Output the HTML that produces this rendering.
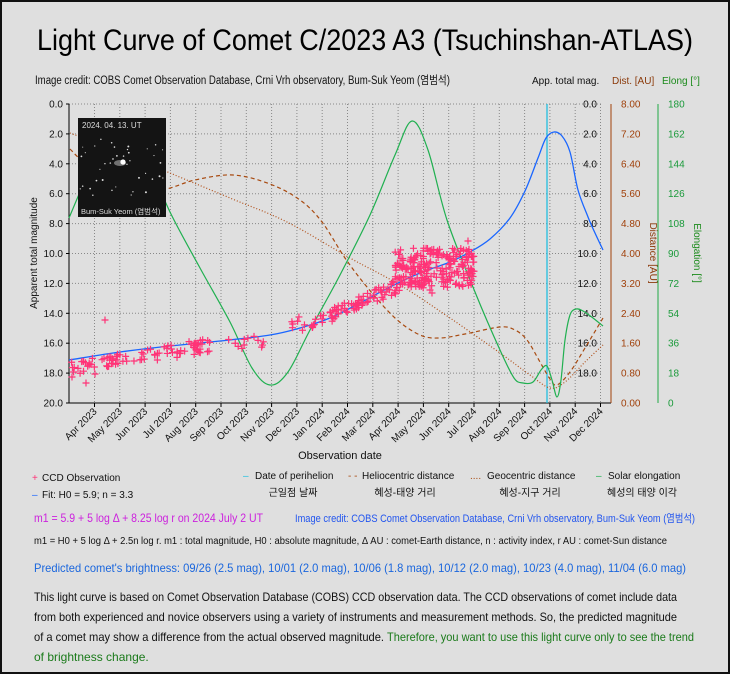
<!DOCTYPE html>
<html><head><meta charset="utf-8"><style>
html,body{margin:0;padding:0;background:#e0e0e0}
body{width:730px;height:674px;overflow:hidden}
svg{display:block;font-family:"Liberation Sans","Noto Sans CJK KR",sans-serif}
</style></head><body>
<svg id="s" width="730" height="674" viewBox="0 0 730 674" xmlns="http://www.w3.org/2000/svg">
<rect x="0" y="0" width="730" height="674" fill="#dfdfdf"/>
<rect x="1" y="1" width="728" height="672" fill="none" stroke="#111" stroke-width="2"/>
<text x="365" y="50" font-size="30" text-anchor="middle" textLength="656" lengthAdjust="spacingAndGlyphs" fill="#000">Light Curve of Comet C/2023 A3 (Tsuchinshan-ATLAS)</text>
<text x="35" y="84" font-size="11.5" fill="#111" textLength="415" lengthAdjust="spacingAndGlyphs">Image credit: COBS Comet Observation Database, Crni Vrh observatory, Bum-Suk Yeom (염범석)</text>
<text x="532" y="84" font-size="10" fill="#111">App. total mag.</text>
<text x="612" y="84" font-size="10" fill="#8b3a0a">Dist. [AU]</text>
<text x="662" y="84" font-size="10" fill="#1a8a1a">Elong [°]</text>
<g id="grid" stroke="#888" stroke-width="1" stroke-dasharray="1,2"></g>
<g id="lab" font-size="10" fill="#111"></g>
<line x1="69" y1="104" x2="69" y2="403" stroke="#000"/>
<line x1="69" y1="403" x2="611" y2="403" stroke="#000"/>
<line x1="611" y1="104" x2="611" y2="403" stroke="#a0400a"/>
<line x1="658" y1="104" x2="658" y2="403" stroke="#22aa44"/>
<line x1="547" y1="104" x2="547" y2="403" stroke="#22c0e0" stroke-width="1.3"/>
<g id="curves" fill="none"></g>
<g id="pts" stroke="#ff3377" stroke-width="1.2"></g>
<!-- photo -->
<rect x="78" y="118" width="88" height="99" fill="#141414"/>
<g id="stars" fill="#ddd"></g>
<ellipse cx="120" cy="163" rx="6" ry="3" fill="#999" opacity="0.7"/>
<circle cx="123" cy="162" r="2.6" fill="#fff"/>
<text x="82" y="128" font-size="8" fill="#ddd">2024. 04. 13. UT</text>
<text x="81" y="214" font-size="7.5" fill="#ddd">Bum-Suk Yeom (염범석)</text>
<text transform="translate(37,253) rotate(-90)" font-size="10" text-anchor="middle" fill="#111">Apparent total magnitude</text>
<text transform="translate(650,253) rotate(90)" font-size="10" text-anchor="middle" fill="#8b3a0a">Distance [AU]</text>
<text transform="translate(694,253) rotate(90)" font-size="10" text-anchor="middle" fill="#1a8a1a">Elongation [°]</text>
<text x="340" y="459" font-size="11" text-anchor="middle" fill="#111">Observation date</text>
<g font-size="10" fill="#111">
<text x="32" y="481" fill="#ff3377">+</text><text x="42" y="481">CCD Observation</text>
<text x="32" y="498" fill="#1a66ff">–</text><text x="42" y="498">Fit: H0 = 5.9; n = 3.3</text>
<text x="243" y="479" fill="#22c0e0">–</text><text x="255" y="479">Date of perihelion</text>
<text x="293" y="496" text-anchor="middle">근일점 날짜</text>
<text x="348" y="479" fill="#a84a10">- -</text><text x="362" y="479">Heliocentric distance</text>
<text x="405" y="496" text-anchor="middle">혜성-태양 거리</text>
<text x="470" y="479" fill="#a84a10">....</text><text x="487" y="479">Geocentric distance</text>
<text x="530" y="496" text-anchor="middle">혜성-지구 거리</text>
<text x="596" y="479" fill="#20b050">–</text><text x="608" y="479">Solar elongation</text>
<text x="642" y="496" text-anchor="middle">혜성의 태양 이각</text>
</g>
<text x="34" y="522" font-size="12" fill="#cc22dd" textLength="229" lengthAdjust="spacingAndGlyphs">m1 = 5.9 + 5 log Δ + 8.25 log r  on 2024 July 2 UT</text>
<text x="295" y="522" font-size="11" fill="#2255ee" textLength="400" lengthAdjust="spacingAndGlyphs">Image credit: COBS Comet Observation Database, Crni Vrh observatory, Bum-Suk Yeom (염범석)</text>
<text x="34" y="544" font-size="10" fill="#111" textLength="633" lengthAdjust="spacingAndGlyphs">m1 = H0 + 5 log Δ + 2.5n log r. m1 : total magnitude, H0 : absolute magnitude, Δ AU : comet-Earth distance, n : activity index, r AU : comet-Sun distance</text>
<text x="34" y="572" font-size="12" fill="#1a66dd" textLength="652" lengthAdjust="spacingAndGlyphs">Predicted comet's brightness: 09/26 (2.5 mag), 10/01 (2.0 mag), 10/06 (1.8 mag), 10/12 (2.0 mag), 10/23 (4.0 mag), 11/04 (6.0 mag)</text>
<g font-size="12" fill="#111">
<text x="34" y="601" textLength="643" lengthAdjust="spacingAndGlyphs">This light curve is based on Comet Observation Database (COBS) CCD observation data. The CCD observations of comet include data</text>
<text x="34" y="621" textLength="643" lengthAdjust="spacingAndGlyphs">from both experienced and novice observers using a variety of instruments and measurement methods. So, the predicted magnitude</text>
<text x="34" y="641" textLength="350" lengthAdjust="spacingAndGlyphs">of a comet may show a difference from the actual observed magnitude.</text>
<text x="387" y="641" fill="#1a7a1a" textLength="307" lengthAdjust="spacingAndGlyphs">Therefore, you want to use this light curve only to see the trend</text>
<text x="34" y="661" fill="#1a7a1a">of brightness change.</text>
</g>
</svg>
<script>
var NS="http://www.w3.org/2000/svg";
function el(p,t,a,txt){var e=document.createElementNS(NS,t);for(var k in a)e.setAttribute(k,a[k]);if(txt!=null)e.textContent=txt;document.getElementById(p).appendChild(e);return e;}
function smooth(pts){var d="M"+pts[0][0]+","+pts[0][1];for(var i=0;i<pts.length-1;i++){var p0=pts[i-1]||pts[i],p1=pts[i],p2=pts[i+1],p3=pts[i+2]||p2;
 var c1x=p1[0]+(p2[0]-p0[0])/6,c1y=p1[1]+(p2[1]-p0[1])/6,c2x=p2[0]-(p3[0]-p1[0])/6,c2y=p2[1]-(p3[1]-p1[1])/6;
 d+="C"+c1x.toFixed(1)+","+c1y.toFixed(1)+" "+c2x.toFixed(1)+","+c2y.toFixed(1)+" "+p2[0]+","+p2[1];}return d;}
function curve(pts,attrs){attrs.d=smooth(pts);el("curves","path",attrs);}
curve([[70,133],[120,152],[170,173],[230,198],[287,222],[350,258],[400,285],[450,318],[500,353],[530,375],[550,388],[565,382],[585,362],[603,345]],{stroke:"#b0501a","stroke-width":1.2,"stroke-dasharray":"1,2"});
curve([[70,149],[90,168],[120,186],[160,190],[195,180],[233,175],[270,184],[300,200],[322,222],[345,258],[367,287],[395,318],[420,335],[440,338],[465,334],[500,327],[515,330],[527,340],[540,362],[550,379],[557,385],[570,372],[585,348],[603,318]],{stroke:"#a84a10","stroke-width":1.2,"stroke-dasharray":"4,3"});
curve([[69,218],[85,180],[100,145],[118,124],[135,132],[150,165],[170,212],[200,268],[230,322],[252,368],[270,385],[288,372],[310,330],[340,275],[370,215],[395,155],[412,121],[428,150],[447,220],[475,292],[500,350],[514,378],[523,383],[533,382],[541,370],[547,366],[552,380],[557,397],[561,380],[565,340],[570,315],[576,309],[583,311],[593,318],[603,326]],{stroke:"#20b050","stroke-width":1.2});
curve([[69,360],[120,352],[170,346],[220,341],[270,335],[300,328],[330,318],[360,303],[390,287],[420,273],[450,262],[470,252],[490,239],[510,218],[525,191],[538,158],[546,138],[554,132],[562,136],[570,152],[578,190],[588,217],[595,233],[603,250]],{stroke:"#1a66ff","stroke-width":1.3});
var months=["Apr 2023","May 2023","Jun 2023","Jul 2023","Aug 2023","Sep 2023","Oct 2023","Nov 2023","Dec 2023","Jan 2024","Feb 2024","Mar 2024","Apr 2024","May 2024","Jun 2024","Jul 2024","Aug 2024","Sep 2024","Oct 2024","Nov 2024","Dec 2024"];
for(var i=0;i<=10;i++){var y=104+i*29.9;
 el("grid","line",{x1:69,y1:y,x2:603,y2:y});
 el("lab","text",{x:63,y:y+3.5,"text-anchor":"end"},(i*2).toFixed(1));
 if(i<10) el("lab","text",{x:597,y:y+3.5,"text-anchor":"end"},(i*2).toFixed(1));
 el("lab","text",{x:621,y:y+3.5,fill:"#a0400a"},(8-i*0.8).toFixed(2));
 el("lab","text",{x:668,y:y+3.5,fill:"#1a9a3a"},String(180-i*18));
 el("lab","line",{x1:66,y1:y,x2:69,y2:y,stroke:"#000"});
}
for(var m=0;m<months.length;m++){var x=94.5+m*25.3;
 el("grid","line",{x1:x,y1:104,x2:x,y2:403});
 el("lab","line",{x1:x,y1:403,x2:x,y2:407,stroke:"#000"});
 el("lab","text",{transform:"translate("+(x+3)+",412) rotate(-45)","text-anchor":"end"},months[m]);
}
var s=12345;function r(){s=(s*16807)%2147483647;return s/2147483647;}
function fit(x){return x<300?360-(x-69)*0.17:(x<470?328-(x-300)*0.44:253-(x-470)*0.5);}
function add(x,y){el("pts","path",{d:"M"+(x-3.5)+","+y+"h7M"+x+","+(y-3.5)+"v7"});}
for(var i=0;i<90;i++){var x=70+r()*140;add(x,fit(x)+6+r()*14-4);}
for(var i=0;i<12;i++){var x=210+r()*60;add(x,342+r()*14-6);}
add(105,320);add(72,377);add(86,383);add(95,374);
for(var i=0;i<20;i++){var x=290+r()*45;add(x,fit(x)-4+r()*10);}
for(var i=0;i<70;i++){var x=330+r()*70;add(x,fit(x)-6+r()*14);}
for(var i=0;i<230;i++){var x=395+r()*80;add(x,248+r()*40);}
add(430,290);add(432,293);add(415,282);add(468,241);
for(var i=0;i<40;i++){el("stars","circle",{cx:80+r()*84,cy:130+r()*75,r:0.5+r()*0.5});}
</script>
</body></html>
